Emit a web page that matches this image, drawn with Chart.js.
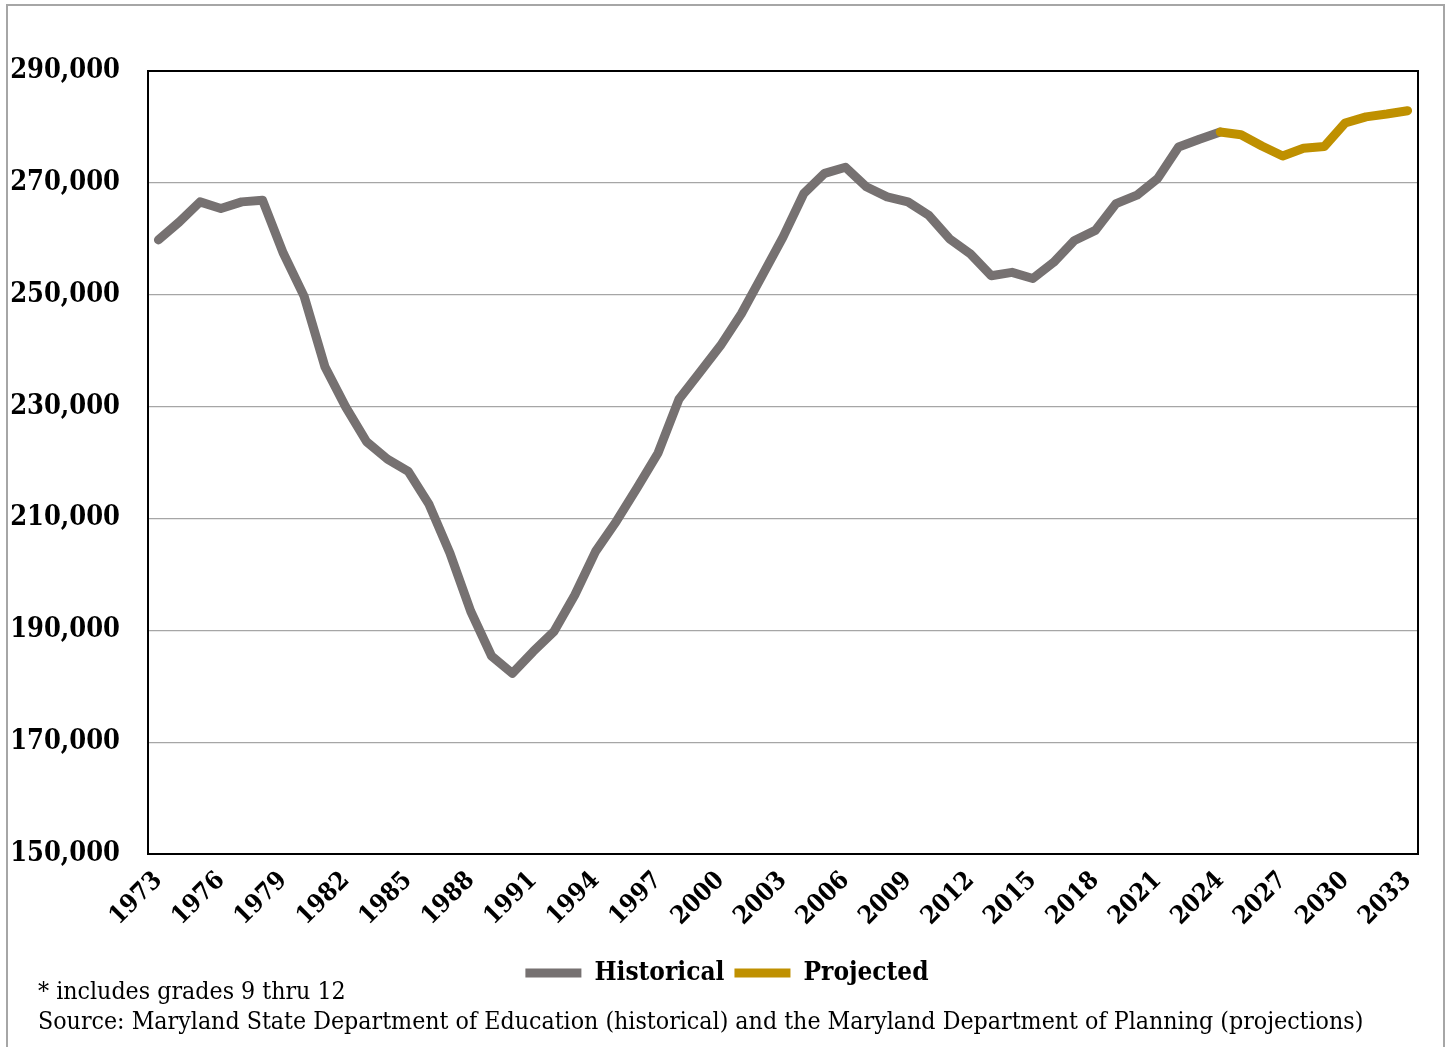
<!DOCTYPE html>
<html>
<head>
<meta charset="utf-8">
<script src="https://cdn.jsdelivr.net/npm/chart.js@4.4.1/dist/chart.umd.min.js"></script>
<style>
  body { margin: 0; background: #fff; }
  #frame { position: absolute; left: 6px; top: 4px; width: 1439px; height: 1060px; border: 2px solid #a6a6a6; box-sizing: border-box; }
  #chart { position: absolute; left: 0; top: 0; }
  .note { position: absolute; left: 38px; font-family: 'DejaVu Serif Condensed', 'DejaVu Serif', serif; font-size: 24.7px; color: #000; white-space: nowrap; }
</style>
</head>
<body>
<div id="frame"></div>
<canvas id="chart" width="1448" height="1047"></canvas>
<div class="note" style="top: 976px;">* includes grades 9 thru 12</div>
<div class="note" style="top: 1006px;">Source: Maryland State Department of Education (historical) and the Maryland Department of Planning (projections)</div>
<script>
const years = [
  '1973', '1974', '1975', '1976', '1977', '1978', '1979', '1980', '1981', '1982',
  '1983', '1984', '1985', '1986', '1987', '1988', '1989', '1990', '1991', '1992',
  '1993', '1994', '1995', '1996', '1997', '1998', '1999', '2000', '2001', '2002',
  '2003', '2004', '2005', '2006', '2007', '2008', '2009', '2010', '2011', '2012',
  '2013', '2014', '2015', '2016', '2017', '2018', '2019', '2020', '2021', '2022',
  '2023', '2024', '2025', '2026', '2027', '2028', '2029', '2030', '2031', '2032',
  '2033'
];

// 1973 - 2024
const historical = [
  259800, 263000, 266600, 265400, 266600, 266900, 257400, 249700, 237100, 229900,
  223700, 220600, 218400, 212500, 203800, 193400, 185400, 182300, 186200, 189800,
  196300, 204100, 209500, 215500, 221700, 231300, 236100, 240900, 246600, 253400,
  260300, 268100, 271700, 272800, 269300, 267500, 266600, 264200, 260000, 257300,
  253400, 254000, 252900, 255800, 259700, 261500, 266300, 267800, 270800, 276400,
  277800, 279100
];

// 2024 - 2033
const projectedStart = '2024';
const projected = [
  279100, 278600, 276600, 274800, 276200, 276500, 280700, 281800, 282300, 282900
];

const yTicks = [150000, 170000, 190000, 210000, 230000, 250000, 270000, 290000];

const startIdx = years.indexOf(projectedStart);
const projectedData = years.map((y, i) => i < startIdx ? null : projected[i - startIdx]);

const serif = "'DejaVu Serif Condensed', 'DejaVu Serif', serif";

// box round the plot area, legend nudged to the page centre
const plotBox = {
  id: 'plotBox',
  afterLayout(chart) {
    chart.legend.left += 18;
    chart.legend.right += 18;
  },
  beforeDatasetsDraw(chart) {
    const a = chart.chartArea;
    const ctx = chart.ctx;
    ctx.save();
    ctx.strokeStyle = '#000';
    ctx.lineWidth = 2;
    ctx.strokeRect(a.left, a.top, a.right - a.left, a.bottom - a.top);
    ctx.restore();
  }
};

const data = {
  labels: years,
  datasets: [{
    label: 'Historical',
    data: historical,
    borderColor: '#767171',
    backgroundColor: '#767171',
    borderWidth: 9,
    borderCapStyle: 'round',
    borderJoinStyle: 'round',
    pointRadius: 0,
    tension: 0,
    order: 1,
  }, {
    label: 'Projected',
    data: projectedData,
    borderColor: '#BF9000',
    backgroundColor: '#BF9000',
    borderWidth: 9,
    borderCapStyle: 'round',
    borderJoinStyle: 'round',
    pointRadius: 0,
    tension: 0,
    order: 0,
  }]
};

const config = {
  type: 'line',
  data: data,
  options: {
    responsive: false,
    animation: false,
    layout: {
      padding: { top: 71, right: 30, bottom: 51, left: 0 }
    },
    plugins: {
      legend: {
        position: 'bottom',
        labels: {
          usePointStyle: true,
          pointStyle: 'line',
          pointStyleWidth: 56,
          padding: 10,
          color: '#000',
          font: { family: serif, size: 26, weight: 'bold' },
          sort: (a, b) => a.datasetIndex - b.datasetIndex,
        }
      },
      tooltip: { enabled: false },
    },
    scales: {
      x: {
        offset: true,
        grid: { display: false, drawTicks: false },
        border: { display: false },
        ticks: {
          autoSkip: false,
          minRotation: 45,
          maxRotation: 45,
          padding: 12,
          color: '#000',
          font: { family: serif, size: 25, weight: 'bold' },
          callback: function (v, i) { return i % 3 === 0 ? this.getLabelForValue(v) : ''; }
        },
        afterFit: (scale) => { scale.height = 96; }
      },
      y: {
        min: yTicks[0],
        max: yTicks[yTicks.length - 1],
        grid: { color: '#a6a6a6', lineWidth: 1.2, drawTicks: false },
        border: { display: false },
        afterBuildTicks: (scale) => { scale.ticks = yTicks.map(v => ({ value: v })); },
        ticks: {
          padding: 28,
          color: '#000',
          font: { family: serif, size: 27, weight: 'bold' },
          callback: (v) => v.toLocaleString('en-US'),
        },
        afterFit: (scale) => { scale.width = 148; }
      }
    }
  },
  plugins: [plotBox]
};

const enrollChart = new Chart(document.getElementById('chart').getContext('2d'), config);
</script>
</body>
</html>
